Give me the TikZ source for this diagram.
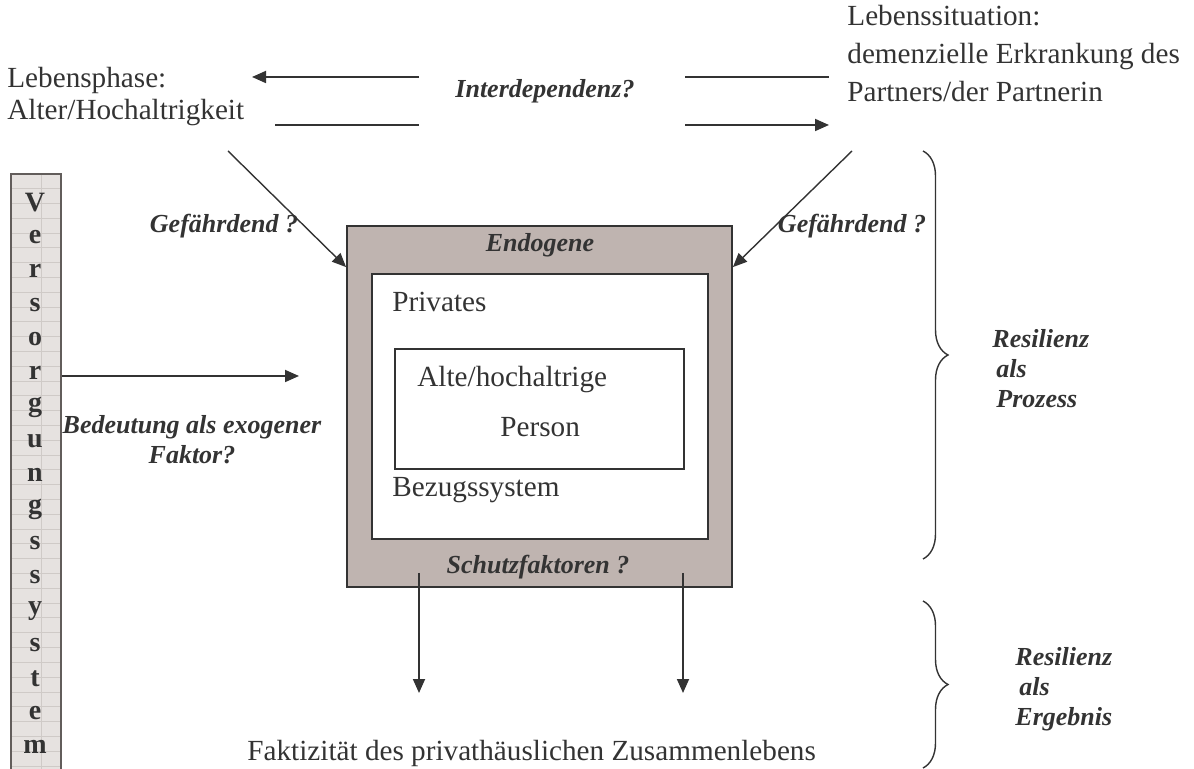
\documentclass[tikz,border=0pt]{standalone}
\usepackage{fontspec}
\setmainfont{Liberation Serif}
\usepackage{tikz}
\usetikzlibrary{arrows.meta, positioning, calc, decorations.pathreplacing}
\definecolor{inkgray}{HTML}{333333}
\definecolor{framegray}{HTML}{BFB4B0}
\definecolor{barfill}{HTML}{E6E2E0}
\definecolor{bargrid}{HTML}{CFCAC7}
\definecolor{barrim}{HTML}{625D5B}

\begin{document}
\begin{tikzpicture}[x=0.5pt, y=-0.5pt,
    font=\fontsize{14.6}{16}\selectfont,
    every node/.style={text=inkgray, inner sep=0pt},
    question/.style={font=\fontsize{13}{15}\selectfont\bfseries\itshape},
    barletter/.style={font=\fontsize{14}{15}\selectfont\bfseries},
    connector/.style={draw=inkgray, line width=0.9pt},
    pointer/.style={connector, -{Triangle[length=7pt, width=6pt]}},
    framebox/.style={draw=inkgray, line width=0.9pt},
    curly/.style={draw=inkgray, line width=0.7pt, decorate, decoration={brace, amplitude=12.5pt}}]

  \useasboundingbox (0,0) rectangle (1194,769);

  % Versorgungssystem bar
  \node[draw=barrim, fill=barfill, line width=1pt, minimum width=25pt, minimum height=303pt] (vbar) at (36,477) {};
  \foreach \r in {1,...,40}
    \draw[bargrid, line width=0.5pt] (12,174+14.8*\r) -- (60,174+14.8*\r);
  \draw[bargrid, line width=0.5pt] (41,175) -- (41,780);
  \foreach \ch [count=\i from 0] in {V,e,r,s,o,r,g,u,n,g,s,s,y,s,t,e,m}
    \node[barletter] (bar\i) at (35,203+34*\i) {\ch};

  % top texts
  \node[anchor=north west, align=left, font=\fontsize{14.6}{16}\selectfont] (phase) at (7,67) {Lebensphase:\\Alter/Hochaltrigkeit};
  \node[anchor=north west, align=left, font=\fontsize{14.6}{19}\selectfont] (situation) at (847,5) {Lebenssituation:\\demenzielle Erkrankung des\\Partners/der Partnerin};
  \node[question, anchor=base] (interdep) at (545,98) {Interdependenz?};

  % Interdependenz arrows
  \coordinate (ulA) at (419,77);  \coordinate (ulB) at (252,77);
  \coordinate (llA) at (275,125); \coordinate (llB) at (419,125);
  \coordinate (urA) at (685,77);  \coordinate (urB) at (829,77);
  \coordinate (lrA) at (685,125); \coordinate (lrB) at (829,125);
  \draw[pointer] (ulA) -- (ulB);
  \draw[connector] (llA) -- (llB);
  \draw[connector] (urA) -- (urB);
  \draw[pointer] (lrA) -- (lrB);

  % nested boxes
  \node[framebox, fill=framegray, minimum width=192.5pt, minimum height=180.5pt] (endo) at (539.5,406.5) {};
  \node[framebox, fill=white, minimum width=168pt, minimum height=132.5pt] (privat) at (540,406.5) {};
  \node[framebox, minimum width=144.5pt, minimum height=60pt] (person) at (539.5,409) {};

  \node[question, anchor=base] (endogen) at (540,252) {Endogene};
  \node[question, anchor=base] (schutz) at (538,574) {Schutzfaktoren ?};
  \node[anchor=base west] (privates) at (392,312) {Privates};
  \node[anchor=base west] (alte) at (417,387) {Alte/hochaltrige};
  \node[anchor=base west] (persontxt) at (500,437) {Person};
  \node[anchor=base west] (bezug) at (392,497) {Bezugssystem};

  % Gefaehrdend arrows
  \coordinate (fromphase) at (228,151);
  \coordinate (fromsit) at (852,151);
  \draw[pointer, line width=0.7pt] (fromphase) -- ([yshift=-21pt]endo.north west);
  \draw[pointer, line width=0.7pt] (fromsit) -- ([yshift=-21pt]endo.north east);
  \node[question, anchor=base] (gefL) at (224,233) {Gefährdend ?};
  \node[question, anchor=base] (gefR) at (852,233) {Gefährdend ?};

  % exogenous factor
  \coordinate (exo) at (299,376);
  \draw[pointer] (vbar.east |- exo) -- (exo);
  \node[question, anchor=north, align=center] (exotxt) at (192,415) {Bedeutung als exogener\\Faktor?};

  % outcome arrows
  \coordinate (outL) at (419,573); \coordinate (resL) at (419,693);
  \coordinate (outR) at (683,573); \coordinate (resR) at (683,693);
  \draw[pointer] (outL) -- (resL);
  \draw[pointer] (outR) -- (resR);
  \node[anchor=base west] (faktiz) at (247,760) {Faktizität des privathäuslichen Zusammenlebens};

  % braces
  \draw[curly] (923,151) -- (923,559);
  \draw[curly] (923,601) -- (923,768);
  \node[question, anchor=north west, align=left] (prozess) at (992,329) {Resilienz\\\hspace{2pt}als\\\hspace{2pt}Prozess};
  \node[question, anchor=north west, align=left] (ergebnis) at (1015,647) {Resilienz\\\hspace{2pt}als\\Ergebnis};
\end{tikzpicture}
\end{document}
